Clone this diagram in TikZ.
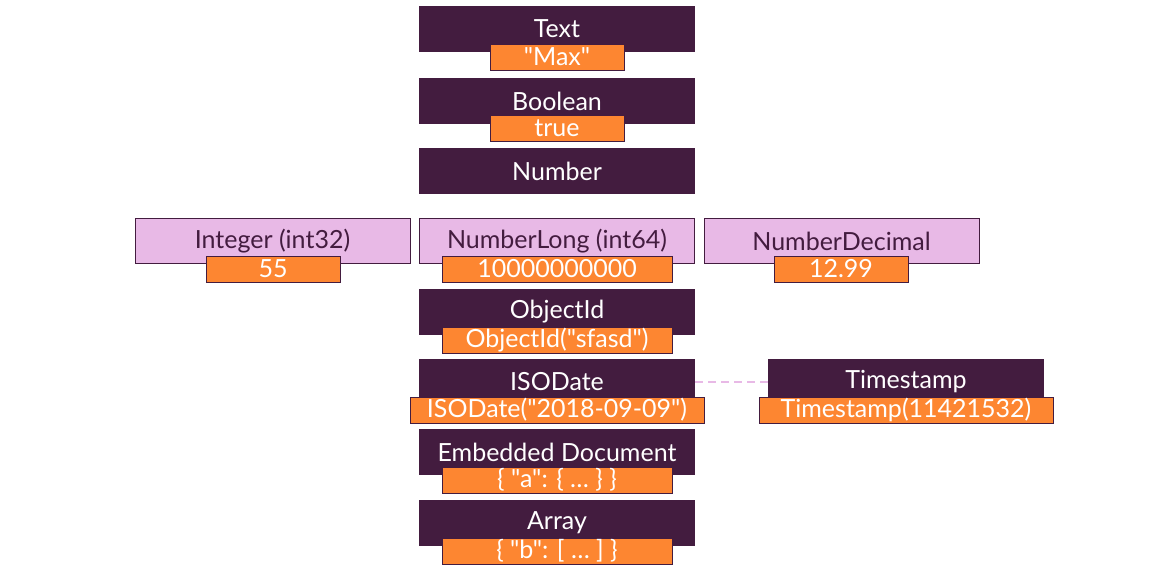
\documentclass[tikz,border=0pt]{standalone}
\usepackage{fontspec}
\setmainfont{Lato}[Ligatures=TeXOff]
\definecolor{dpurple}{HTML}{431C3F}
\definecolor{dorange}{HTML}{FD8631}
\definecolor{lpink}{HTML}{E8B9E6}
\newcommand{\dq}{"}
\begin{document}
\begin{tikzpicture}[x=1pt,y=-1pt,
  hdr/.style={fill=dpurple,text=white,minimum width=276pt,minimum height=46pt,inner sep=0pt,font=\fontsize{25}{28}\selectfont},
  sub/.style={fill=lpink,draw=dpurple,line width=1pt,text=dpurple,minimum width=275pt,minimum height=45pt,inner sep=0pt,font=\fontsize{25}{28}\selectfont},
  val/.style={fill=dorange,draw=dpurple,line width=1pt,text=white,minimum height=26pt,inner sep=0pt,font=\fontsize{25}{28}\selectfont}]
\useasboundingbox (0,0) rectangle (1156,581);
% headers
\node[hdr] (text) at (557,28.5) {Text};
\node[val,minimum width=134pt] (textv) at (557,57) {\dq Max\dq};
\node[hdr] (bool) at (557,101) {Boolean};
\node[val,minimum width=134pt] (boolv) at (557,128.5) {true};
\node[hdr] (num) at (557,171) {Number};
\node[sub] (int) at (272.5,241) {Integer (int32)};
\node[val,minimum width=134pt] (intv) at (273,269) {55};
\node[sub] (long) at (557,241) {NumberLong (int64)};
\node[val,minimum width=230pt] (longv) at (557,269) {10000000000};
\node[sub] (dec) at (841.5,241) {NumberDecimal};
\node[val,minimum width=134pt] (decv) at (841,269) {12.99};
\node[hdr] (oid) at (557,312) {ObjectId};
\node[val,minimum width=230pt] (oidv) at (557,340) {ObjectId(\dq sfasd\dq)};
\node[hdr] (iso) at (557,382) {ISODate};
\node[val,minimum width=294pt] (isov) at (557,410) {ISODate(\dq 2018-09-09\dq)};
\node[hdr] (ts) at (906,382) {Timestamp};
\node[val,minimum width=294pt] (tsv) at (906,410) {Timestamp(11421532)};
\node[hdr] (emb) at (557,452) {Embedded Document};
\node[val,minimum width=230pt] (embv) at (557,480) {\{ \dq a\dq: \{ \dots\ \} \}};
\node[hdr] (arr) at (557,523) {Array};
\node[val,minimum width=230pt] (arrv) at (557,551) {\{ \dq b\dq: [ \dots\ ] \}};
\draw[lpink,line width=2.5pt,dash pattern=on 8pt off 5pt] (iso.east) -- (ts.west);
\end{tikzpicture}
\end{document}
